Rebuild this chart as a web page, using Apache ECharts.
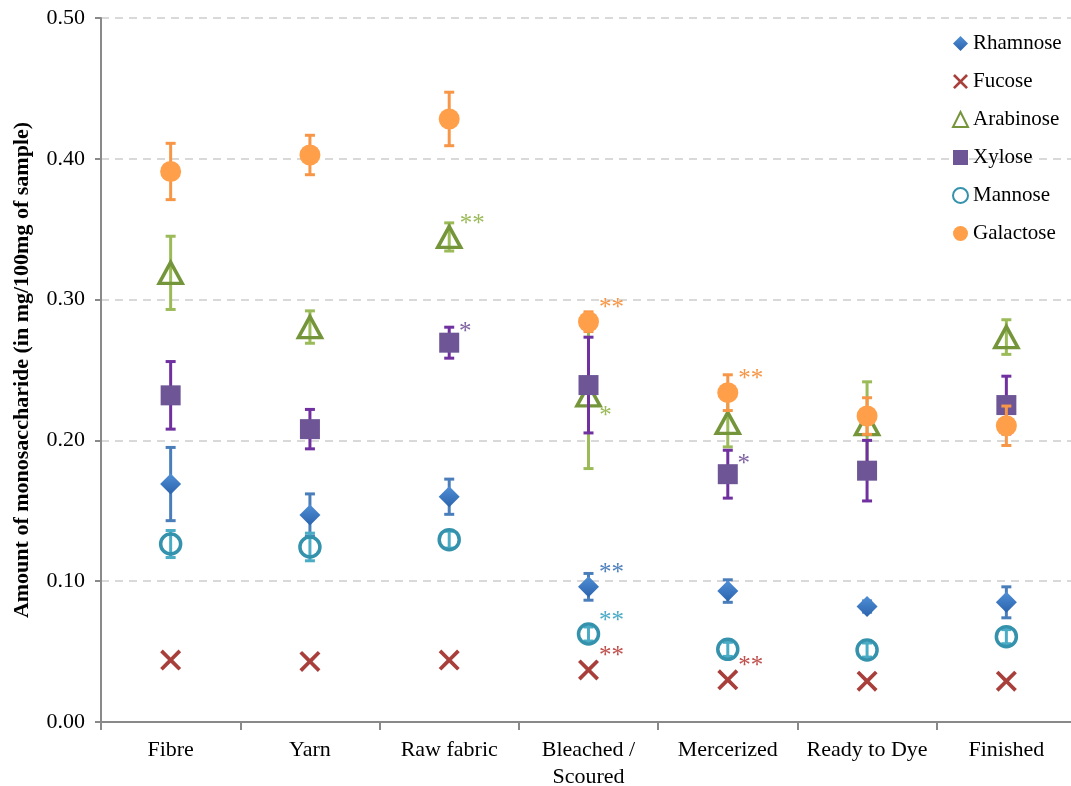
<!DOCTYPE html>
<html>
<head>
<meta charset="utf-8">
<script src="https://cdn.jsdelivr.net/npm/echarts@6/dist/echarts.min.js"></script>
<style>
  html, body { margin: 0; padding: 0; background: #fff; }
  #chart { width: 1071px; height: 786px; }
</style>
</head>
<body>
<div id="chart"></div>
<script>
// Processing stages
var categories = ['Fibre', 'Yarn', 'Raw fabric', 'Bleached /\nScoured', 'Mercerized', 'Ready to Dye', 'Finished'];

// Mean monosaccharide content (mg/100mg of sample) and standard deviation
var rhamnose     = [0.169, 0.147, 0.160, 0.096, 0.093, 0.082, 0.085];
var rhamnoseErr  = [0.026, 0.015, 0.0125, 0.0095, 0.008, 0.004, 0.011];
var fucose       = [0.044, 0.043, 0.044, 0.037, 0.030, 0.029, 0.029];
var fucoseErr    = [0, 0, 0, 0, 0, 0, 0];
var arabinose    = [0.319, 0.2805, 0.3445, 0.232, 0.2124, 0.2116, 0.2734];
var arabinoseErr = [0.026, 0.0115, 0.010, 0.052, 0.017, 0.030, 0.0123];
var xylose       = [0.232, 0.208, 0.2694, 0.2393, 0.176, 0.1785, 0.2251];
var xyloseErr    = [0.024, 0.014, 0.011, 0.034, 0.017, 0.0215, 0.0205];
var mannose      = [0.1264, 0.1243, 0.1295, 0.0625, 0.0516, 0.0511, 0.0606];
var mannoseErr   = [0.0096, 0.0098, 0.006, 0.005, 0.005, 0.005, 0.005];
var galactose    = [0.391, 0.4027, 0.4283, 0.2843, 0.2339, 0.2173, 0.2104];
var galactoseErr = [0.020, 0.014, 0.019, 0.007, 0.0127, 0.013, 0.014];

// Significance markers
var rhamnoseSig  = ['', '', '', '**', '', '', ''];
var fucoseSig    = ['', '', '', '**', '**', '', ''];
var arabinoseSig = ['', '', '**', '*', '', '', ''];
var xyloseSig    = ['', '', '*', '', '*', '', ''];
var mannoseSig   = ['', '', '', '**', '', '', ''];
var galactoseSig = ['', '', '', '**', '**', '', ''];

// Y axis ticks
var yMin = 0, yMax = 0.5, yStep = 0.1;

var FONT = '"Liberation Serif", "Times New Roman", serif';
var CROSS = 'path://M2.5,0 L10,7.5 L17.5,0 L20,2.5 L12.5,10 L20,17.5 L17.5,20 L10,12.5 L2.5,20 L0,17.5 L7.5,10 L0,2.5 Z';

var defs = [
  { name: 'Rhamnose', vals: rhamnose, err: rhamnoseErr, sig: rhamnoseSig,
    symbol: 'diamond', size: [21, 21],
    item: { color: new echarts.graphic.LinearGradient(0, 0, 0, 1, [
      { offset: 0, color: '#4f8fd6' }, { offset: 1, color: '#2b63ad' }]) },
    errColor: '#4a7ebb', sigColor: '#4f81bd' },
  { name: 'Fucose', vals: fucose, err: fucoseErr, sig: fucoseSig,
    symbol: CROSS, size: [21, 21],
    item: { color: '#a83f3b' },
    errColor: '#c0504d', sigColor: '#c0504d' },
  { name: 'Arabinose', vals: arabinose, err: arabinoseErr, sig: arabinoseSig,
    symbol: 'triangle', size: [23, 21],
    item: { color: 'rgba(255,255,255,0)', borderColor: '#75953b', borderWidth: 3.5 },
    errColor: '#9bbb59', sigColor: '#9bbb59' },
  { name: 'Xylose', vals: xylose, err: xyloseErr, sig: xyloseSig,
    symbol: 'rect', size: [20, 20],
    item: { color: '#6d5596' },
    errColor: '#7030a0', sigColor: '#8064a2' },
  { name: 'Mannose', vals: mannose, err: mannoseErr, sig: mannoseSig,
    symbol: 'circle', size: [20, 20],
    item: { color: 'rgba(255,255,255,0)', borderColor: '#3492ad', borderWidth: 3.5 },
    errColor: '#4bacc6', sigColor: '#4bacc6' },
  { name: 'Galactose', vals: galactose, err: galactoseErr, sig: galactoseSig,
    symbol: 'circle', size: [21, 21],
    item: { color: '#ff9f4a' },
    errColor: '#f79646', sigColor: '#f79646' }
];

function sigOffset(name, text) {
  if (name === 'Arabinose' && text === '*') return [17, 21];
  if (text === '*') return [16, -10];
  return [23, -13];
}

var series = [];
defs.forEach(function (d, k) {
  // error bars
  series.push({
    type: 'custom',
    name: d.name + ' SD',
    z: 2 + 2 * k,
    silent: true,
    data: d.vals.map(function (v, i) { return [i, v - d.err[i], v + d.err[i]]; }),
    renderItem: function (params, api) {
      var i = api.value(0);
      var lo = api.coord([i, api.value(1)]);
      var hi = api.coord([i, api.value(2)]);
      if (Math.abs(hi[1] - lo[1]) < 0.5) return null;
      var st = { stroke: d.errColor, lineWidth: 3 };
      var hw = 5;
      return {
        type: 'group',
        children: [
          { type: 'line', shape: { x1: lo[0], y1: lo[1], x2: hi[0], y2: hi[1] }, style: st },
          { type: 'line', shape: { x1: hi[0] - hw, y1: hi[1], x2: hi[0] + hw, y2: hi[1] }, style: st },
          { type: 'line', shape: { x1: lo[0] - hw, y1: lo[1], x2: lo[0] + hw, y2: lo[1] }, style: st }
        ]
      };
    },
    encode: { x: 0, y: [1, 2] }
  });
  // markers with significance labels
  var style = Object.assign({ opacity: 1 }, d.item);
  series.push({
    type: 'scatter',
    name: d.name,
    z: 3 + 2 * k,
    symbol: d.symbol,
    symbolSize: d.size,
    itemStyle: style,
    data: d.vals.map(function (v, i) {
      return {
        value: v,
        label: { offset: sigOffset(d.name, d.sig[i]) }
      };
    }),
    label: {
      show: true,
      position: 'inside',
      formatter: function (p) { return d.sig[p.dataIndex]; },
      color: d.sigColor,
      fontSize: 25,
      fontFamily: FONT
    },
    emphasis: { disabled: true }
  });
});

var chart = echarts.init(document.getElementById('chart'), null, { renderer: 'canvas' });
chart.setOption({
  animation: false,
  backgroundColor: '#ffffff',
  grid: { left: 101, right: -5, top: 18, bottom: 64, outerBoundsMode: 'none', containLabel: false },
  legend: {
    orient: 'vertical',
    left: 952,
    top: 33,
    padding: 0,
    itemWidth: 15,
    itemHeight: 15,
    itemGap: 17,
    data: defs.map(function (d) { return d.name; }),
    textStyle: { fontFamily: FONT, fontSize: 21, color: '#000' }
  },
  xAxis: {
    type: 'category',
    data: categories,
    boundaryGap: true,
    axisLine: { lineStyle: { color: '#898989', width: 2 } },
    axisTick: { show: true, length: 8, lineStyle: { color: '#898989', width: 2 } },
    axisLabel: { fontFamily: FONT, fontSize: 22, color: '#000', margin: 15, lineHeight: 27, interval: 0 },
    splitLine: { show: false }
  },
  yAxis: {
    type: 'value',
    min: yMin, max: yMax, interval: yStep,
    name: 'Amount of monosaccharide (in mg/100mg of sample)',
    nameLocation: 'middle',
    nameGap: 68,
    nameTextStyle: { fontFamily: FONT, fontSize: 22, fontWeight: 'bold', color: '#000' },
    axisLine: { show: true, lineStyle: { color: '#898989', width: 2 } },
    axisTick: { show: true, length: 6, lineStyle: { color: '#898989', width: 2 } },
    axisLabel: { fontFamily: FONT, fontSize: 22, color: '#000', margin: 16,
      formatter: function (v) { return v.toFixed(2); } },
    splitLine: { show: true, lineStyle: { color: '#d9d9d9', width: 2, type: [8, 6] } }
  },
  series: series
});
</script>
</body>
</html>
